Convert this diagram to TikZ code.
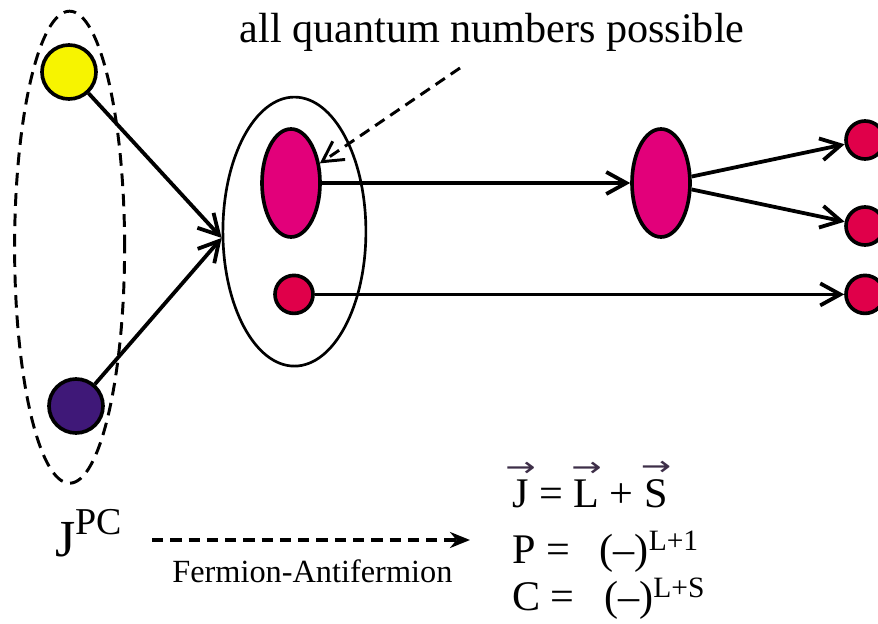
\documentclass[tikz,border=0pt]{standalone}
\usepackage{fontspec}
\setmainfont{Liberation Serif}
\newfontfamily\arrowfont{DejaVu Sans}
\usepackage{graphicx}
\usetikzlibrary{shapes.geometric,arrows.meta,positioning}

\definecolor{quarkyellow}{HTML}{F7F400}
\definecolor{quarkpurple}{HTML}{3F1878}
\definecolor{mesonpink}{HTML}{E2007A}
\definecolor{hadronred}{HTML}{E0004A}
\definecolor{vecgray}{HTML}{3D2E48}

% arrow over a letter
\newcommand{\vecsym}[1]{\leavevmode\vbox{\offinterlineskip\halign{\hfil##\hfil\cr
  \makebox[0pt]{\textcolor{vecgray}{\resizebox{0.72em}{0.34em}{\arrowfont →}}}\cr\noalign{\kern0.08em}#1\cr}}}

\begin{document}
\begin{tikzpicture}[
        >={Straight Barb[length=5mm,width=5.5mm]},
        conn/.style={->, line width=2.7pt},
        quark/.style={circle, draw, line width=2.6pt, minimum size=1.35cm, inner sep=0pt},
        blob/.style={ellipse, draw, line width=2.6pt, fill=mesonpink, minimum width=1.45cm, minimum height=2.7cm, inner sep=0pt},
        dot/.style={circle, draw, line width=2.6pt, fill=hadronred, minimum size=0.95cm, inner sep=0pt},
        bigtxt/.style={font=\fontsize{30}{36}\selectfont, inner sep=0pt}
    ]
        \useasboundingbox (0,0) rectangle (21.95,-15.6);

        % the pair
        \node[ellipse, draw, dashed, dash pattern=on 9pt off 5.5pt, line width=2.1pt,
            minimum width=2.75cm, minimum height=11.8cm, inner sep=0pt] (pair) at (1.74,-6.18) {};
        \node[quark, fill=quarkyellow] (q1) at (1.725,-1.8) {};
        \node[quark, fill=quarkpurple] (q2) at (1.9,-10.15) {};

        % the state and its decays
        \node[ellipse, draw, line width=1.9pt, minimum width=3.575cm, minimum height=6.725cm, inner sep=0pt] (state) at (7.36,-5.79) {};
        \node[blob] (m1) at (7.275,-4.575) {};
        \node[dot] (s1) at (7.35,-7.36) {};
        \node[blob] (m2) at (16.525,-4.575) {};
        \node[dot] (r1) at (21.625,-3.5) {};
        \node[dot] (r2) at (21.625,-5.65) {};
        \node[dot] (r3) at (21.625,-7.36) {};

        \draw[conn] (q1) -- (state.185);
        \draw[conn] (q2) -- (state.185);
        \draw[conn] (m1) -- (m2);
        \draw[conn] (m2) -- (r1);
        \draw[conn] (m2) -- (r2);
        \draw[conn] (s1) -- (r3);

        % label on top
        \node[bigtxt, anchor=base] (allqn) at (12.3,-1.075) {all quantum numbers possible};
        \coordinate (qnfoot) at (11.5,-1.7);
        \draw[->, dashed, line width=2.1pt, dash pattern=on 8pt off 5pt] (qnfoot) -- (m1);

        % bottom part
        \node[anchor=base west, inner sep=0pt] (jpc) at (1.375,-13.9)
            {\fontsize{37}{40}\selectfont J\raisebox{0.42em}{\fontsize{27}{30}\selectfont PC}};
        \coordinate (ffend) at (11.75,-13.5);
        \draw[-{Stealth[length=5mm,width=4mm]}, dashed, line width=2.3pt, dash pattern=on 8pt off 5pt]
            (3.8,-13.5) coordinate (ffstart) -- (ffend);
        \node[anchor=base west, inner sep=0pt, font=\fontsize{23}{28}\selectfont] (ff) at (4.3,-14.55) {Fermion-Antifermion};

        \node[bigtxt, anchor=base west] (eqj) at (12.8,-12.675) {\vecsym{J} = \vecsym{L} + \vecsym{S}};
        \node[bigtxt, anchor=base west] (eqp) at (12.8,-14.075) {P =\hspace{0.45em} (–)\textsuperscript{L+1}};
        \node[bigtxt, anchor=base west] (eqc) at (12.8,-15.25) {C =\hspace{0.45em} (–)\textsuperscript{L+S}};
\end{tikzpicture}
\end{document}
